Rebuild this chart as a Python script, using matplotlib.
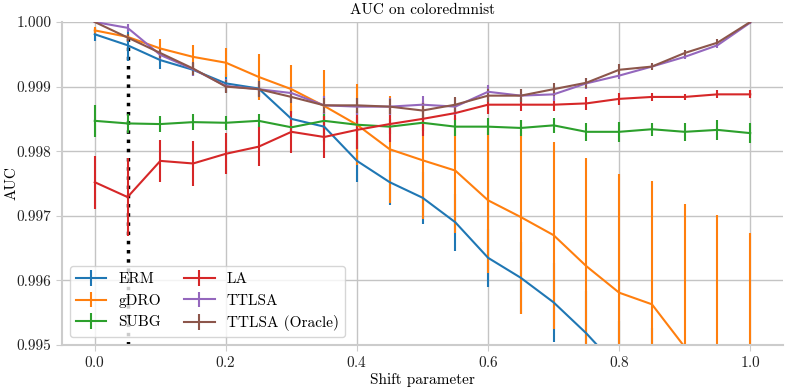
import numpy as np
import matplotlib
matplotlib.use("Agg")
import matplotlib.pyplot as plt

shift = [0.0, 0.05, 0.1, 0.15, 0.2, 0.25, 0.3, 0.35, 0.4, 0.45, 0.5,
         0.55, 0.6, 0.65, 0.7, 0.75, 0.8, 0.85, 0.9, 0.95, 1.0]

erm = [0.99981, 0.99964, 0.99941, 0.99926, 0.99905, 0.99897, 0.99850, 0.99838,
       0.99785, 0.99752, 0.99728, 0.99690, 0.99635, 0.99604, 0.99566, 0.99518,
       0.99463, 0.99400, 0.99330, 0.99250, 0.99150]
erm_err = [0.00010, 0.00025, 0.00013, 0.00010, 0.00015, 0.00015, 0.00020, 0.00022,
           0.00033, 0.00036, 0.00040, 0.00044, 0.00045, 0.00056, 0.00061, 0.00065,
           0.00074, 0.00126, 0.00150, 0.00170, 0.00190]

gdro = [0.99987, 0.99977, 0.99959, 0.99946, 0.99937, 0.99915, 0.99896, 0.99870,
        0.99841, 0.99803, 0.99786, 0.99770, 0.99724, 0.99698, 0.99670, 0.99622,
        0.99581, 0.99563, 0.99497, 0.99440, 0.99400]
gdro_err = [0.00005, 0.00005, 0.00015, 0.00019, 0.00022, 0.00035, 0.00037, 0.00056,
            0.00063, 0.00083, 0.00091, 0.00096, 0.00112, 0.00150, 0.00145, 0.00168,
            0.00184, 0.00191, 0.00221, 0.00262, 0.00274]

subg = [0.99847, 0.99843, 0.99842, 0.99845, 0.99844, 0.99847, 0.99837, 0.99847,
        0.99841, 0.99838, 0.99844, 0.99838, 0.99838, 0.99836, 0.99840, 0.99830,
        0.99830, 0.99834, 0.99830, 0.99833, 0.99828]
subg_err = [0.00025, 0.00015, 0.00012, 0.00012, 0.00011, 0.00011, 0.00010, 0.00012,
            0.00012, 0.00012, 0.00012, 0.00014, 0.00013, 0.00012, 0.00012, 0.00014,
            0.00015, 0.00010, 0.00014, 0.00016, 0.00016]

la = [0.99752, 0.99729, 0.99785, 0.99781, 0.99796, 0.99807, 0.99830, 0.99822,
      0.99833, 0.99842, 0.99850, 0.99859, 0.99872, 0.99872, 0.99872, 0.99874,
      0.99881, 0.99884, 0.99884, 0.99888, 0.99888]
la_err = [0.00041, 0.00061, 0.00033, 0.00035, 0.00032, 0.00030, 0.00033, 0.00032,
          0.00030, 0.00028, 0.00026, 0.00010, 0.00015, 0.00010, 0.00009, 0.00010,
          0.00009, 0.00006, 0.00005, 0.00006, 0.00006]

ttlsa = [1.00000, 0.99991, 0.99949, 0.99927, 0.99901, 0.99896, 0.99890, 0.99871,
         0.99869, 0.99869, 0.99872, 0.99869, 0.99892, 0.99886, 0.99888, 0.99905,
         0.99917, 0.99931, 0.99946, 0.99964, 0.99999]
ttlsa_err = [0.00002, 0.00006, 0.00008, 0.00010, 0.00010, 0.00010, 0.00010, 0.00014,
             0.00013, 0.00013, 0.00013, 0.00013, 0.00010, 0.00010, 0.00010, 0.00008,
             0.00006, 0.00004, 0.00004, 0.00004, 0.00002]

oracle = [1.00000, 0.99976, 0.99952, 0.99928, 0.99900, 0.99896, 0.99884, 0.99871,
          0.99871, 0.99869, 0.99863, 0.99872, 0.99886, 0.99886, 0.99896, 0.99906,
          0.99926, 0.99931, 0.99952, 0.99968, 1.00000]
oracle_err = [0.00002, 0.00006, 0.00008, 0.00010, 0.00010, 0.00012, 0.00010, 0.00012,
              0.00012, 0.00012, 0.00012, 0.00012, 0.00010, 0.00010, 0.00010, 0.00008,
              0.00009, 0.00005, 0.00005, 0.00005, 0.00003]

series = [("ERM", erm, erm_err, "#1f77b4"),
          ("gDRO", gdro, gdro_err, "#ff7f0e"),
          ("SUBG", subg, subg_err, "#2ca02c"),
          ("LA", la, la_err, "#d62728"),
          ("TTLSA", ttlsa, ttlsa_err, "#9467bd"),
          ("TTLSA (Oracle)", oracle, oracle_err, "#8c564b")]

train_shift = 0.05
marker_top = 0.99975

plt.rcParams['font.family'] = ['cmr10', 'DejaVu Serif']
plt.rcParams['mathtext.fontset'] = 'cm'
plt.rcParams['axes.formatter.use_mathtext'] = True

fig = plt.figure(figsize=(7.89, 3.89), dpi=100)
ax = fig.add_axes([62/789, 1-345/389, (783-62)/789, (345-22)/389])

for name, vals, err, col in series:
    ax.errorbar(shift, vals, yerr=err, color=col, label=name, lw=1.5, elinewidth=1.5)

ax.vlines(train_shift, 0.995, marker_top, colors='k', linestyles=':', lw=2.5, zorder=1.5)

ax.set_ylim(0.995, 1.000)
ax.set_xlim(-0.05, 1.05)
ax.set_xticks([0.0, 0.2, 0.4, 0.6, 0.8, 1.0])
ax.set_yticks([0.995, 0.996, 0.997, 0.998, 0.999, 1.000])
ax.set_yticklabels(["0.995", "0.996", "0.997", "0.998", "0.999", "1.000"])
ax.grid(True, color='#c4c4c4', lw=1.0)
ax.set_axisbelow(True)
for s in ['top', 'right']:
    ax.spines[s].set_visible(False)
for s in ['left', 'bottom']:
    ax.spines[s].set_color('#cccccc')
    ax.spines[s].set_linewidth(1.5)
ax.tick_params(colors='#cccccc', labelcolor='#222222', labelsize=11, length=4)

ax.set_title("AUC on coloredmnist", fontsize=11)
ax.set_xlabel("Shift parameter", fontsize=11, labelpad=2)
ax.set_ylabel("AUC", fontsize=11)
ax.yaxis.set_label_coords(-43/721, 0.5)

leg = ax.legend(loc='lower left', ncol=2, fontsize=11, framealpha=0.8,
                edgecolor='#cccccc', handlelength=2.0, columnspacing=1.5)

fig.savefig("out.png", dpi=100)
